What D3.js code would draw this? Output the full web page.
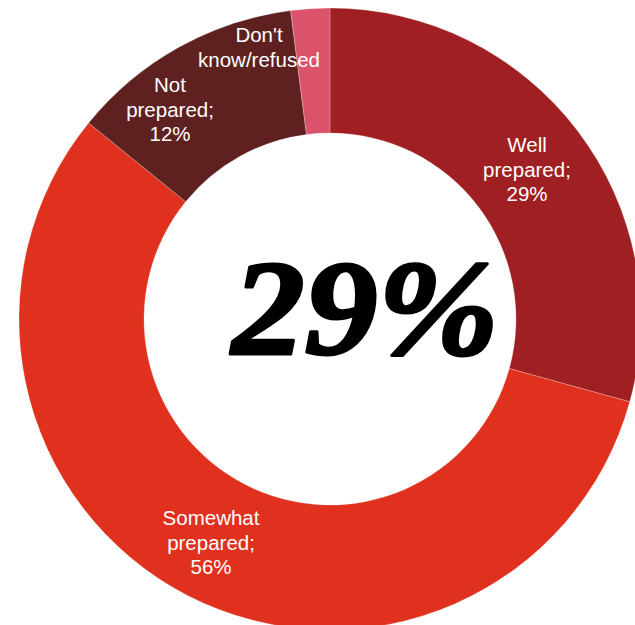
<!DOCTYPE html>
<html>
<head>
<meta charset="utf-8">
<script src="https://cdn.jsdelivr.net/npm/d3@7"></script>
<style>
  body { margin: 0; background: #fff; }
</style>
</head>
<body>
<div id="chart-area"></div>
<script>
// survey shares
const categories = ['Well prepared', 'Somewhat prepared', 'Not prepared', "Don't know/refused"]
const values = [29, 56, 12, 2]
const labelLines = [
  ['Well', 'prepared;', '29%'],
  ['Somewhat', 'prepared;', '56%'],
  ['Not', 'prepared;', '12%'],
  ["Don't", 'know/refused']
]
const colors = ['#A01F22', '#E0301E', '#5E2120', '#DB536A']
const centerText = '29%'

const width = 635
const height = 625
const cx = 330
const cy = 319
const outerR = 311
const innerR = 186

const svg = d3.select('#chart-area').append('svg')
  .attr('width', width)
  .attr('height', height)

const g = svg.append('g')
  .attr('transform', `translate(${cx},${cy})`)

const data = categories.map((c, i) => ({ name: c, value: values[i], lines: labelLines[i], color: colors[i] }))

const pie = d3.pie()
  .sort(null)
  .value(d => d.value)

const arc = d3.arc()
  .innerRadius(innerR)
  .outerRadius(outerR)

const arcs = pie(data)

g.selectAll('path')
  .data(arcs)
  .enter().append('path')
    .attr('d', arc)
    .attr('fill', d => d.data.color)
    .attr('stroke', 'rgba(255,255,255,0.35)')
    .attr('stroke-width', 0.7)

// label positions (offsets from centre, px)
const labelPos = [
  { x: 197, y: -167 },
  { x: -119, y: 206 },
  { x: -160, y: -227 },
  { x: -71, y: -277 }
]
const lineH = 24.5

g.selectAll('text.lbl')
  .data(arcs)
  .enter().append('text')
    .attr('class', 'lbl')
    .attr('text-anchor', 'middle')
    .attr('fill', '#fff')
    .style('font-family', 'Liberation Sans, Arial, sans-serif')
    .style('font-size', '20.5px')
    .each(function(d, i) {
      const t = d3.select(this)
      d.data.lines.forEach((line, j) => {
        t.append('tspan')
          .attr('x', labelPos[i].x)
          .attr('y', labelPos[i].y + j * lineH)
          .text(line)
      })
    })

g.append('text')
  .attr('x', 33)
  .attr('y', 35)
  .attr('text-anchor', 'middle')
  .attr('transform', 'scale(1.07,1)')
  .style('font-family', 'Liberation Serif, DejaVu Serif, serif')
  .style('font-weight', 'bold')
  .style('font-style', 'italic')
  .style('font-size', '136px')
  .attr('fill', '#000')
  .attr('stroke', '#000')
  .attr('stroke-width', 3)
  .attr('stroke-linejoin', 'round')
  .text(centerText)
</script>
</body>
</html>
